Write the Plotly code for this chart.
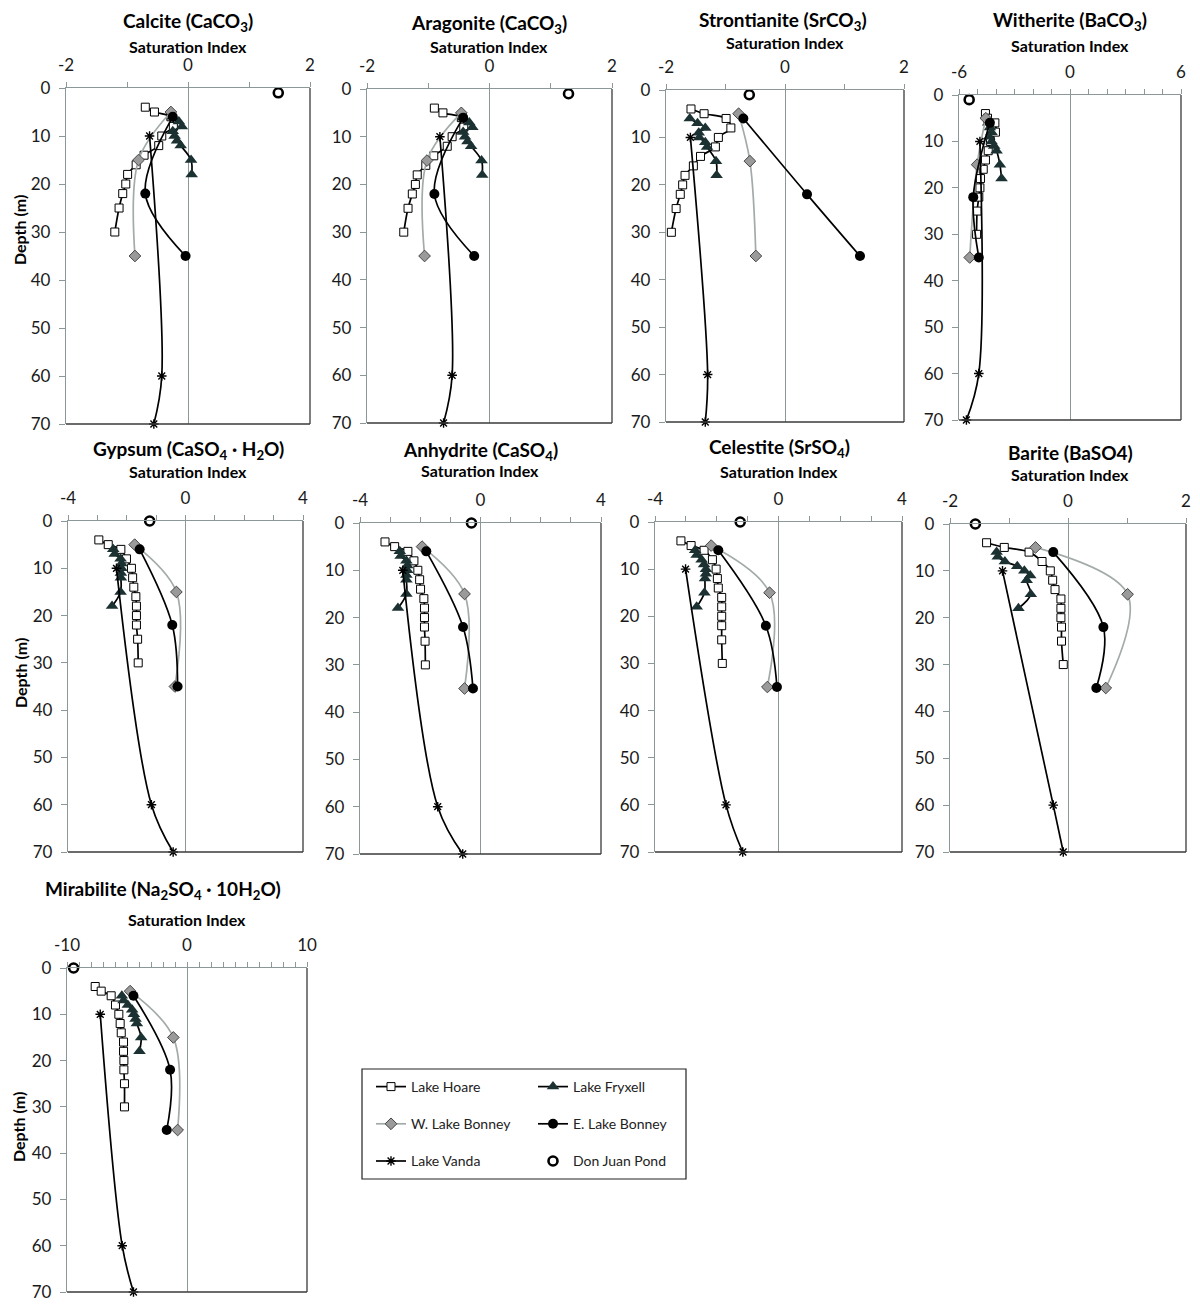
import plotly.graph_objects as go

# ---------------- data ----------------
depth_hoare = [4, 5, 6, 8, 10, 12, 14, 16, 18, 20, 22, 25, 30]
depth_fryxell = [6, 7, 8, 9, 10, 11, 12, 15, 18]
depth_wbonney = [5, 15, 35]
depth_ebonney = [6, 22, 35]
depth_vanda = [10, 60, 70]
depth_djp = [1, 1, 1, 1, 0, 0, 0, 0, 0]

calcite = dict(
    hoare=[-0.70, -0.55, -0.28, -0.24, -0.43, -0.48, -0.72, -0.85, -0.99, -1.02, -1.07, -1.13, -1.20],
    fryxell=[-0.25, -0.15, -0.10, -0.25, -0.22, -0.18, -0.12, 0.05, 0.06],
    wbonney=[-0.28, -0.81, -0.87], ebonney=[-0.25, -0.70, -0.04],
    vanda=[-0.63, -0.43, -0.56], djp=[1.48])
aragonite = dict(
    hoare=[-0.90, -0.76, -0.46, -0.42, -0.61, -0.69, -0.91, -1.04, -1.18, -1.21, -1.26, -1.33, -1.40],
    fryxell=[-0.43, -0.33, -0.28, -0.43, -0.40, -0.36, -0.30, -0.13, -0.12],
    wbonney=[-0.46, -1.02, -1.06], ebonney=[-0.43, -0.90, -0.25],
    vanda=[-0.81, -0.61, -0.75], djp=[1.29])
strontianite = dict(
    hoare=[-1.58, -1.36, -0.99, -0.91, -1.12, -1.17, -1.42, -1.54, -1.68, -1.72, -1.76, -1.83, -1.91],
    fryxell=[-1.60, -1.47, -1.34, -1.45, -1.44, -1.34, -1.31, -1.16, -1.15],
    wbonney=[-0.78, -0.59, -0.49], ebonney=[-0.70, 0.37, 1.26],
    vanda=[-1.59, -1.30, -1.34], djp=[-0.60])
witherite = dict(
    hoare=[-4.57, -4.46, -4.06, -4.03, -4.30, -4.42, -4.57, -4.69, -4.84, -4.87, -4.93, -5.02, -5.05],
    fryxell=[-4.42, -4.33, -4.24, -4.37, -4.24, -4.10, -3.97, -3.79, -3.70],
    wbonney=[-4.55, -5.02, -5.42], ebonney=[-4.33, -5.23, -4.93],
    vanda=[-4.87, -4.93, -5.60], djp=[-5.45])
gypsum = dict(
    hoare=[-2.95, -2.63, -2.20, -2.01, -1.84, -1.80, -1.76, -1.69, -1.67, -1.67, -1.67, -1.63, -1.61],
    fryxell=[-2.46, -2.41, -2.21, -2.18, -2.18, -2.20, -2.20, -2.21, -2.50],
    wbonney=[-1.73, -0.31, -0.36], ebonney=[-1.56, -0.45, -0.27],
    vanda=[-2.35, -1.16, -0.42], djp=[-1.22])
anhydrite = dict(
    hoare=[-3.17, -2.85, -2.41, -2.21, -2.08, -2.02, -1.99, -1.88, -1.86, -1.86, -1.86, -1.84, -1.83],
    fryxell=[-2.68, -2.65, -2.46, -2.43, -2.43, -2.46, -2.46, -2.46, -2.74],
    wbonney=[-1.94, -0.53, -0.53], ebonney=[-1.80, -0.58, -0.25],
    vanda=[-2.58, -1.42, -0.59], djp=[-0.30])
celestite = dict(
    hoare=[-3.16, -2.83, -2.41, -2.14, -2.02, -1.98, -1.95, -1.84, -1.84, -1.84, -1.84, -1.84, -1.82],
    fryxell=[-2.70, -2.65, -2.49, -2.41, -2.35, -2.35, -2.38, -2.40, -2.65],
    wbonney=[-2.18, -0.29, -0.36], ebonney=[-1.95, -0.41, -0.05],
    vanda=[-3.01, -1.70, -1.16], djp=[-1.24])
barite = dict(
    hoare=[-1.38, -1.08, -0.66, -0.44, -0.30, -0.26, -0.22, -0.12, -0.12, -0.12, -0.11, -0.11, -0.08],
    fryxell=[-1.21, -1.19, -1.07, -0.86, -0.74, -0.64, -0.70, -0.63, -0.84],
    wbonney=[-0.55, 1.01, 0.64], ebonney=[-0.25, 0.60, 0.48],
    vanda=[-1.11, -0.25, -0.08], djp=[-1.57])
mirabilite = dict(
    hoare=[-7.65, -7.15, -6.32, -5.96, -5.68, -5.57, -5.48, -5.29, -5.29, -5.26, -5.26, -5.21, -5.21],
    fryxell=[-5.43, -5.29, -4.93, -4.57, -4.43, -4.29, -4.18, -3.82, -3.96],
    wbonney=[-4.74, -1.14, -0.78], ebonney=[-4.46, -1.41, -1.69],
    vanda=[-7.23, -5.40, -4.46], djp=[-9.45])

titles = [
    "Calcite (CaCO<sub>3</sub>)", "Aragonite (CaCO<sub>3</sub>)",
    "Strontianite (SrCO<sub>3</sub>)", "Witherite (BaCO<sub>3</sub>)",
    "Gypsum (CaSO<sub>4</sub> · H<sub>2</sub>O)", "Anhydrite (CaSO<sub>4</sub>)",
    "Celestite (SrSO<sub>4</sub>)", "Barite (BaSO4)",
    "Mirabilite (Na<sub>2</sub>SO<sub>4</sub> · 10H<sub>2</sub>O)",
]
panel_data = [calcite, aragonite, strontianite, witherite, gypsum,
              anhydrite, celestite, barite, mirabilite]
x_limits = [2, 2, 2, 6, 4, 4, 4, 2, 10]
depth_ticks = [0, 10, 20, 30, 40, 50, 60, 70]

# ---------------- layout geometry (page pixels) ----------------
PAGE_OFF = 8                 # browser body margin
FW, FH = 1184, 1294          # figure size so the page fits the 1200x1310 window
FONT = "Lato, 'Open Sans', sans-serif"
AX_GRAY = "#8c9898"
DARK = "#3a3a3a"


def fx(p):
    return min(max((p - PAGE_OFF) / FW, 0), 1)


def fy(p):
    return min(max(1 - (p - PAGE_OFF) / FH, 0), 1)


# plot boxes: x0, x1, ytop, ybottom (page px)
boxes = [
    (66, 310, 88, 424), (367, 612, 89, 423), (666, 904, 90, 422), (959, 1181, 95, 420),
    (68, 303, 521, 852), (360, 601, 523, 854), (655, 902, 522, 852), (950, 1186, 524, 852),
    (67, 307, 968, 1292),
]
title_pos = [(188, 22), (489, 24), (783, 21), (1070, 21), (188, 450), (480, 451),
             (779, 448), (1070, 452), (163, 890)]
si_pos = [(188, 47), (489, 47), (785, 42), (1070, 45), (188, 472), (480, 470),
          (779, 472), (1070, 474), (187, 919)]
depth_label_pos = [(19, 230), (20, 673), (18, 1127)]

series = [
    dict(key="hoare", name="Lake Hoare", depth=depth_hoare, legend="legend",
         line=dict(color="black", width=1.7, shape="spline"),
         marker=dict(symbol="square", size=8, color="white", line=dict(color="black", width=1))),
    dict(key="fryxell", name="Lake Fryxell", depth=depth_fryxell, legend="legend2",
         line=dict(color="black", width=1.7, shape="spline"),
         marker=dict(symbol="triangle-up", size=11, color="#1c3131", line=dict(width=0))),
    dict(key="wbonney", name="W. Lake Bonney", depth=depth_wbonney, legend="legend",
         line=dict(color="#a3aaaa", width=1.7, shape="spline"),
         marker=dict(symbol="diamond", size=9, color="#9a9a9a", line=dict(color="#444", width=1))),
    dict(key="ebonney", name="E. Lake Bonney", depth=depth_ebonney, legend="legend2",
         line=dict(color="black", width=1.7, shape="spline"),
         marker=dict(symbol="circle", size=10, color="black")),
    dict(key="vanda", name="Lake Vanda", depth=depth_vanda, legend="legend",
         line=dict(color="black", width=1.7, shape="spline"),
         marker=dict(symbol="asterisk-open", size=8, color="black", line=dict(color="black", width=1.4))),
    dict(key="djp", name="Don Juan Pond", depth=None, legend="legend2",
         line=None,
         marker=dict(symbol="circle-open", size=9, color="black", line=dict(color="black", width=2.6))),
]

fig = go.Figure()
layout_axes = {}
shapes = []
annotations = []

for i, data in enumerate(panel_data):
    k = i + 1
    xa = "x" if k == 1 else f"x{k}"
    ya = "y" if k == 1 else f"y{k}"
    for s in series:
        depth = s["depth"] if s["depth"] is not None else [depth_djp[i]]
        tr = dict(
            x=data[s["key"]], y=depth, xaxis=xa, yaxis=ya, name=s["name"],
            legendgroup=s["key"], showlegend=(i == 0), legend=s["legend"],
            marker=s["marker"], cliponaxis=False,
        )
        if s["line"] is None:
            tr["mode"] = "markers"
        else:
            tr["mode"] = "lines+markers"
            tr["line"] = s["line"]
        fig.add_trace(go.Scatter(**tr))

    lim = x_limits[i]
    tv = list(range(-lim, lim + 1))
    tt = [str(v) if v in (-lim, 0, lim) else "" for v in tv]
    x0, x1, yt, yb = boxes[i]
    xname = "xaxis" if k == 1 else f"xaxis{k}"
    yname = "yaxis" if k == 1 else f"yaxis{k}"
    layout_axes[xname] = dict(
        domain=[fx(x0), fx(x1)], range=[-lim, lim], side="top", anchor=ya,
        tickmode="array", tickvals=tv, ticktext=tt,
        ticks="outside", ticklen=5, tickcolor=AX_GRAY, tickwidth=1,
        showline=True, linecolor=AX_GRAY, linewidth=1.3,
        showgrid=False, zeroline=True, zerolinecolor=AX_GRAY, zerolinewidth=1.3,
        tickfont=dict(family=FONT, size=17, color="#1a1a1a"),
        ticklabelstandoff=4, ticklabeloverflow="allow",
        automargin=False, fixedrange=True,
    )
    layout_axes[yname] = dict(
        domain=[fy(yb), fy(yt)], range=[70, 0], anchor=xa,
        tickmode="array", tickvals=depth_ticks,
        ticks="outside", ticklen=6, tickcolor=AX_GRAY, tickwidth=1,
        showline=True, linecolor=AX_GRAY, linewidth=1.3,
        showgrid=False, zeroline=False,
        tickfont=dict(family=FONT, size=17, color="#1a1a1a"),
        ticklabelstandoff=5, automargin=False, fixedrange=True,
    )
    # dark right and bottom borders of plot area
    shapes.append(dict(type="line", xref=f"{xa} domain", yref=f"{ya} domain",
                       x0=1, x1=1, y0=0, y1=1, line=dict(color=DARK, width=1.3)))
    shapes.append(dict(type="line", xref=f"{xa} domain", yref=f"{ya} domain",
                       x0=0, x1=1, y0=0, y1=0, line=dict(color=DARK, width=1.3)))
    tx, ty = title_pos[i]
    annotations.append(dict(text=f"<b>{titles[i]}</b>", x=fx(tx), y=fy(ty),
                            xref="paper", yref="paper", showarrow=False,
                            xanchor="center", yanchor="middle",
                            font=dict(family=FONT, size=19, color="black")))
    sx, sy = si_pos[i]
    annotations.append(dict(text="<b>Saturation Index</b>", x=fx(sx), y=fy(sy),
                            xref="paper", yref="paper", showarrow=False,
                            xanchor="center", yanchor="middle",
                            font=dict(family=FONT, size=16, color="black")))

for dx, dy in depth_label_pos:
    annotations.append(dict(text="<b>Depth (m)</b>", x=fx(dx), y=fy(dy),
                            xref="paper", yref="paper", showarrow=False, textangle=-90,
                            xanchor="center", yanchor="middle",
                            font=dict(family=FONT, size=16, color="black")))

# legend frame
shapes.append(dict(type="rect", xref="paper", yref="paper",
                   x0=fx(362), x1=fx(686), y0=fy(1179), y1=fy(1069),
                   line=dict(color="#222", width=1.2), fillcolor="rgba(0,0,0,0)"))

legend_common = dict(
    xanchor="left", yanchor="top", orientation="v",
    font=dict(family=FONT, size=14, color="#222"),
    tracegroupgap=16, itemwidth=30, bgcolor="rgba(0,0,0,0)",
    traceorder="grouped", borderwidth=0,
)

fig.update_layout(
    width=FW, height=FH,
    margin=dict(l=0, r=0, t=0, b=0),
    paper_bgcolor="white", plot_bgcolor="white",
    font=dict(family=FONT, color="black"),
    shapes=shapes, annotations=annotations,
    legend=dict(x=fx(371), y=fy(1071), **legend_common),
    legend2=dict(x=fx(533), y=fy(1071), **legend_common),
    **layout_axes,
)

fig.write_html("out.html")
